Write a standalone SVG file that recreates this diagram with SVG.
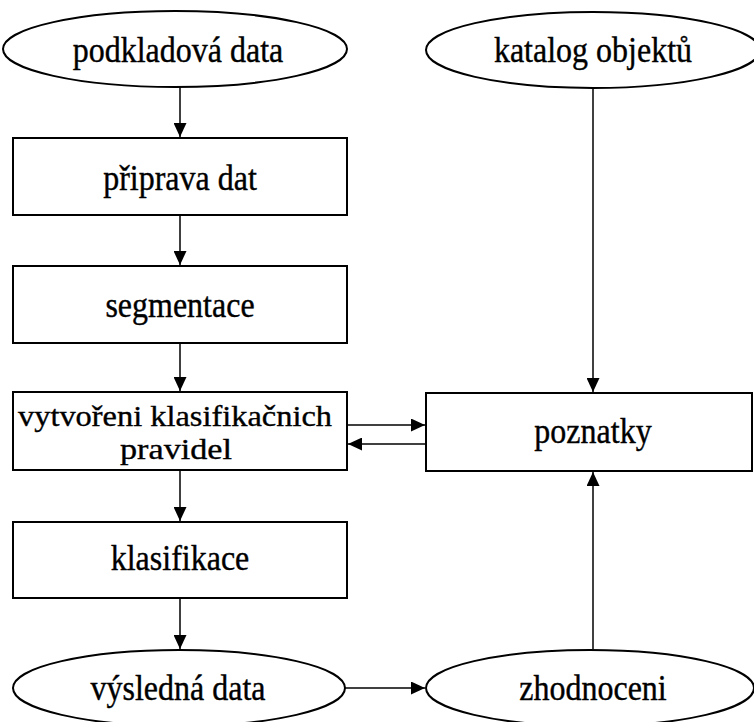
<svg xmlns="http://www.w3.org/2000/svg" width="754" height="722" viewBox="0 0 754 722">
<style>
.n{fill:#fff;stroke:#000;stroke-width:2}
.t{font-family:"Liberation Serif","Times New Roman",serif;font-size:32px;fill:#000;stroke:#000;stroke-width:0.35;text-anchor:middle}
.s{font-size:29px}
.c{fill:none;stroke:#000;stroke-width:1.5}
</style>
<defs>
<marker id="a" viewBox="0 0 14 13" refX="14" refY="6.5" markerWidth="14" markerHeight="13" markerUnits="userSpaceOnUse" orient="auto">
<path d="M0,0L14,6.5L0,13z" fill="#000"/>
</marker>
</defs>
<rect width="754" height="722" fill="#fff"/>
<g id="connectors">
<line class="c" x1="180" y1="87" x2="180" y2="137" marker-end="url(#a)"/>
<line class="c" x1="180" y1="215" x2="180" y2="265" marker-end="url(#a)"/>
<line class="c" x1="180" y1="343" x2="180" y2="391" marker-end="url(#a)"/>
<line class="c" x1="180" y1="470" x2="180" y2="521" marker-end="url(#a)"/>
<line class="c" x1="180" y1="598" x2="180" y2="649" marker-end="url(#a)"/>
<line class="c" x1="593" y1="88" x2="593" y2="392" marker-end="url(#a)"/>
<line class="c" x1="347" y1="425" x2="425" y2="425" marker-end="url(#a)"/>
<line class="c" x1="426" y1="444" x2="348" y2="444" marker-end="url(#a)"/>
<line class="c" x1="345" y1="688" x2="425" y2="688" marker-end="url(#a)"/>
<line class="c" x1="593" y1="649" x2="593" y2="472" marker-end="url(#a)"/>
</g>
<g id="podkladova">
<ellipse class="n" cx="175" cy="49" rx="172" ry="38"/>
<text class="t" transform="translate(178,62) scale(1,1.12)">podkladová data</text>
</g>
<g id="katalog">
<ellipse class="n" cx="593" cy="50" rx="167" ry="38"/>
<text class="t" transform="translate(593,62) scale(1,1.12)">katalog objektů</text>
</g>
<g id="priprava">
<rect class="n" x="13" y="138" width="334" height="77"/>
<text class="t" transform="translate(180,190) scale(1,1.12)">připrava dat</text>
</g>
<g id="segmentace">
<rect class="n" x="13" y="266" width="334" height="77"/>
<text class="t" transform="translate(180,317) scale(1,1.12)">segmentace</text>
</g>
<g id="vytvoreni">
<rect class="n" x="13" y="392" width="334" height="78"/>
<text class="t s" x="175" y="426" textLength="314" lengthAdjust="spacingAndGlyphs">vytvořeni klasifikačnich</text>
<text class="t s" x="176" y="459" textLength="112" lengthAdjust="spacingAndGlyphs">pravidel</text>
</g>
<g id="poznatky">
<rect class="n" x="426" y="393" width="326" height="78"/>
<text class="t" transform="translate(593,443) scale(1,1.12)">poznatky</text>
</g>
<g id="klasifikace">
<rect class="n" x="13" y="522" width="334" height="76"/>
<text class="t" transform="translate(180,570) scale(1,1.12)">klasifikace</text>
</g>
<g id="vysledna">
<ellipse class="n" cx="179" cy="688" rx="166" ry="38"/>
<text class="t" transform="translate(178,700) scale(1,1.12)">výsledná data</text>
</g>
<g id="zhodnoceni">
<ellipse class="n" cx="590" cy="688" rx="164" ry="38"/>
<text class="t" transform="translate(593,700) scale(1,1.12)">zhodnoceni</text>
</g>
</svg>
